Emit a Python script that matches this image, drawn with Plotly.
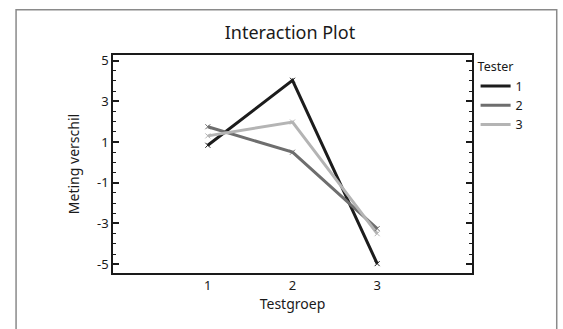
import plotly.graph_objects as go

groups = [1, 2, 3]
tester1 = [0.84, 4.03, -4.97]
tester2 = [1.75, 0.5, -3.25]
tester3 = [1.3, 1.98, -3.5]
series_names = ["1", "2", "3"]
colors = ["#1c1c1c", "#6e6e6e", "#b4b4b4"]
ytick_vals = [-5, -3, -1, 1, 3, 5]

fig = go.Figure()
for name, vals, col in zip(series_names, [tester1, tester2, tester3], colors):
    fig.add_trace(go.Scatter(
        x=groups, y=vals, name=name, mode="lines",
        line=dict(color=col, width=3),
    ))
for name, vals, col in zip(series_names, [tester1, tester2, tester3], colors):
    fig.add_trace(go.Scatter(
        x=groups, y=vals, name=name, mode="markers", showlegend=False,
        marker=dict(symbol="x-thin", size=5, line=dict(color=col, width=1), color=col),
    ))

font_family = "Noto Sans, Open Sans, sans-serif"
txt = "#1a1a1a"
fig.update_layout(
    width=563, height=329,
    margin=dict(l=113, r=91, t=55, b=56, autoexpand=False),
    paper_bgcolor="white", plot_bgcolor="white",
    font=dict(family=font_family, color=txt, size=13),
    title=dict(text="Interaction Plot", x=0.515, xanchor="center", y=0.9, yanchor="middle",
               font=dict(size=18, family=font_family, color=txt)),
    showlegend=True,
    legend=dict(title=dict(text="Tester", font=dict(size=12.5, color=txt)), x=1.01, xanchor="left",
                y=1.0, yanchor="top", itemwidth=30, tracegroupgap=0,
                font=dict(size=12.5, color=txt), bgcolor="rgba(0,0,0,0)"),
    xaxis=dict(range=[-0.12, 4.12], tickvals=groups, ticktext=[str(g) for g in groups],
               showgrid=False, zeroline=False, showline=True, mirror=True,
               linecolor="#1a1a1a", linewidth=1.5, ticks="",
               title=dict(text="Testgroep", font=dict(size=14, color=txt), standoff=4),
               tickfont=dict(size=13, color=txt)),
    yaxis=dict(range=[-5.43, 5.27], tickvals=ytick_vals, ticktext=[str(v) for v in ytick_vals],
               showgrid=False, zeroline=False, showline=True, mirror="ticks",
               linecolor="#1a1a1a", linewidth=1.5, ticks="inside", ticklen=6,
               tickwidth=1.5, tickcolor="#1a1a1a",
               minor=dict(dtick=0.5, tick0=0, ticks="inside", ticklen=3.5, tickwidth=1,
                          tickcolor="#1a1a1a", showgrid=False),
               title=dict(text="Meting verschil", font=dict(size=14, color=txt), standoff=14),
               tickfont=dict(size=13, color=txt)),
)

fig.add_shape(type="rect", xref="paper", yref="paper",
              x0=-0.270, x1=1.236, y0=-0.45, y1=1.207,
              line=dict(color="#8a8a8a", width=1.5), layer="below")

fig.write_html("out.html", config={"displayModeBar": False},
               post_script="document.body.style.margin='0';document.body.style.overflow='hidden';")
